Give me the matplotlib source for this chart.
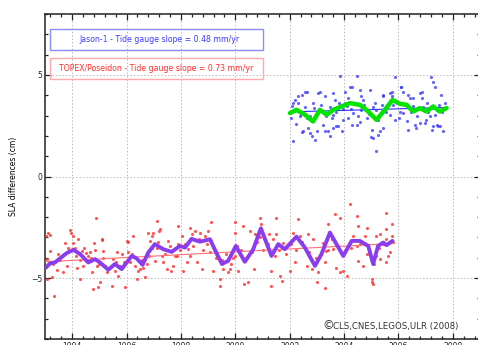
import matplotlib.pyplot as plt
from matplotlib.patches import Rectangle
from matplotlib.ticker import MultipleLocator

# TOPEX/Poseidon - tide gauge differences (cm), 10-day cycles
tp_year = [1993.04, 1993.18, 1993.18, 1993.06, 1993.06, 1993.25, 1993.33, 1993.49, 1993.61, 1993.67,
           1993.74, 1993.86, 1993.96, 1994.02, 1994.04, 1994.10, 1994.17, 1994.22, 1994.29, 1994.35,
           1994.41, 1994.51, 1994.59, 1994.65, 1994.72, 1994.80, 1994.78, 1994.90, 1994.96, 1995.02,
           1995.08, 1995.14, 1995.21, 1995.27, 1995.45, 1995.51, 1995.57, 1995.66, 1995.76, 1995.82,
           1995.94, 1996.00, 1996.13, 1996.25, 1996.37, 1996.43, 1996.49, 1996.61, 1996.68, 1996.82,
           1996.86, 1996.92, 1996.98, 1997.04, 1997.11, 1997.20, 1997.29, 1997.35, 1997.47, 1997.53,
           1997.62, 1997.72, 1997.78, 1997.90, 1998.03, 1998.08, 1998.21, 1998.27, 1998.39, 1998.51,
           1998.58, 1998.70, 1998.76, 1998.88, 1999.00, 1999.07, 1999.19, 1999.43, 1999.43, 1999.56,
           1999.74, 1999.80, 1999.92, 2000.05, 2000.11, 1993.10, 1993.92, 1994.88, 1995.08, 1996.05,
           1997.11, 1996.80, 1997.88, 1997.23, 1998.33, 1999.09, 1999.99, 1999.99, 2000.90, 2000.94,
           2001.25, 2004.21, 2003.66, 2005.56, 2004.46, 2001.49, 2002.31, 2000.27, 2003.42, 2003.85,
           2005.75, 2005.56, 2004.83, 2004.52, 2000.47, 2000.32, 2001.33, 2001.64, 2001.70, 2002.99,
           2003.29, 2005.01, 2005.07, 2005.01, 2000.69, 2001.33, 2002.01, 2002.19, 2002.62, 2002.81,
           2003.05, 2003.72, 2003.85, 2003.97, 2004.09, 2004.52, 2004.70, 2005.32, 2005.56, 2005.19,
           2005.62, 2000.54, 2000.72, 2000.90, 2001.39, 2001.49, 2001.76, 2002.13, 2002.38, 2002.68,
           2002.86, 2003.23, 2003.60, 2004.33, 2004.46, 2004.76, 2004.83, 2005.19, 2005.32, 2005.56,
           2005.75, 2003.29, 2003.35,
           1993.30, 1993.45, 1993.55, 1993.80, 1994.15, 1994.30, 1994.45, 1994.70, 1994.85, 1995.00,
           1995.15, 1995.35, 1995.60, 1995.70, 1995.90, 1996.05, 1996.20, 1996.30, 1996.55, 1996.75,
           1996.95, 1997.15, 1997.40, 1997.58, 1997.85, 1997.95, 1998.15, 1998.35, 1998.45, 1998.65,
           1998.82, 1998.95, 1999.12, 1999.30, 1999.50, 1999.65, 1999.85, 2000.00, 2000.20, 2000.40,
           2000.60, 2000.80, 2001.00, 2001.20, 2001.45, 2001.60, 2001.85, 2002.05, 2002.25, 2002.45,
           2002.70, 2002.95, 2003.15, 2003.40, 2003.55, 2003.78, 2004.05, 2004.25, 2004.60, 2004.90,
           2005.10, 2005.30, 2005.45, 2005.70, 2005.80]
tp_sla = [-2.93, -2.89, -3.66, -4.07, -5.05, -4.95, -5.87, -3.82, -3.91, -4.72,
          -3.25, -3.50, -2.76, -2.93, -3.25, -3.50, -4.48, -3.09, -5.05, -3.66,
          -4.40, -3.77, -3.91, -3.74, -4.72, -3.25, -5.54, -4.40, -5.46, -5.21,
          -3.09, -3.66, -4.40, -4.72, -5.38, -4.07, -4.64, -3.74, -4.40, -3.82,
          -5.46, -3.17, -4.23, -2.93, -5.05, -4.64, -4.56, -4.48, -4.97, -3.91,
          -3.17, -2.93, -2.76, -4.15, -3.50, -2.68, -3.91, -4.23, -4.56, -3.17,
          -4.64, -4.40, -3.91, -3.33, -2.93, -4.64, -4.23, -3.58, -2.84, -2.68,
          -4.23, -2.76, -4.56, -2.93, -2.68, -3.74, -4.64, -5.05, -5.38, -4.56,
          -4.72, -4.56, -3.99, -3.42, -4.64, -2.80, -2.65, -2.03, -3.12, -3.22,
          -2.19, -2.76, -2.44, -2.60, -2.52, -2.24, -2.24, -2.76, -2.03, -2.35,
          -2.84, -1.37, -1.86, -1.78, -1.95, -2.03, -2.08, -2.44, -2.35, -2.03,
          -2.35, -2.60, -2.52, -2.44, -5.21, -5.29, -5.38, -4.89, -5.13, -5.21,
          -5.50, -5.21, -5.29, -5.05, -4.56, -4.64, -4.64, -4.23, -4.40, -4.56,
          -4.72, -4.48, -4.72, -4.64, -4.89, -4.15, -4.40, -4.07, -4.23, -3.91,
          -3.91, -2.68, -2.84, -3.00, -3.09, -2.84, -3.25, -2.76, -2.93, -2.84,
          -3.09, -3.25, -3.58, -2.93, -3.42, -2.93, -3.82, -2.93, -2.84, -3.09,
          -2.93, -4.23, -3.66,
          -4.30, -4.60, -4.10, -4.40, -3.90, -4.10, -3.50, -4.00, -3.60, -4.30,
          -4.00, -4.50, -4.20, -4.90, -4.20, -3.70, -3.80, -4.40, -4.10, -4.30,
          -3.50, -3.20, -3.80, -3.40, -3.90, -3.60, -3.30, -3.90, -3.40, -3.10,
          -3.60, -3.30, -3.20, -4.00, -4.10, -3.80, -4.30, -3.90, -3.60, -4.00,
          -3.70, -3.20, -3.60, -3.30, -3.90, -3.60, -3.80, -3.30, -3.60, -3.20,
          -3.70, -4.00, -3.80, -3.60, -3.10, -3.40, -3.70, -3.50, -3.30, -3.60,
          -4.30, -3.50, -3.30, -3.70, -3.20]

# TOPEX smoothed curve
tp_smooth_year = [1993.04, 1993.18, 1993.37, 1993.55, 1993.80, 1994.04, 1994.29, 1994.59, 1994.84, 1995.02,
                  1995.33, 1995.57, 1995.82, 1996.19, 1996.37, 1996.59, 1996.80, 1997.04, 1997.35, 1997.66,
                  1997.96, 1998.15, 1998.39, 1998.70, 1999.07, 1999.31, 1999.51, 1999.74, 2000.02, 2000.35,
                  2000.66, 2000.94, 2001.33, 2001.58, 2001.82, 2002.25, 2002.56, 2002.93, 2003.17, 2003.48,
                  2003.72, 2003.97, 2004.28, 2004.58, 2004.89, 2005.07, 2005.25, 2005.44, 2005.56, 2005.78]
tp_smooth = [-4.48, -4.28, -4.23, -4.03, -3.77, -3.61, -3.82, -4.23, -4.07, -4.23,
             -4.59, -4.31, -4.56, -3.91, -4.03, -4.35, -3.74, -3.33, -3.58, -3.71,
             -3.42, -3.50, -3.07, -3.21, -3.09, -3.78, -4.31, -4.15, -3.42, -4.20,
             -3.58, -2.55, -3.91, -3.33, -3.58, -2.96, -3.50, -4.40, -3.82, -2.76,
             -3.33, -3.91, -3.17, -3.17, -3.42, -4.31, -3.42, -3.25, -3.38, -3.17]
tp_trend_year = [1993.0, 2005.8]
tp_trend = [-4.20, -3.30]

# Jason-1 - tide gauge differences (cm)
j1_year = [2003.85, 2004.48, 2002.13, 2002.07, 2002.19, 2002.44, 2002.62, 2002.31, 2002.38, 2002.50,
           2002.13, 2002.68, 2002.62, 2002.81, 2002.86, 2003.05, 2003.11, 2002.99, 2003.23, 2003.29,
           2003.29, 2003.60, 2003.66, 2003.54, 2003.78, 2003.97, 2004.03, 2004.15, 2004.21, 2004.28,
           2004.46, 2004.58, 2004.64, 2004.70, 2004.95, 2005.01, 2004.83, 2004.64, 2004.33, 2004.15,
           2003.91, 2003.60, 2003.48, 2002.93, 2005.07, 2003.42, 2005.87, 2007.19, 2007.28, 2006.11,
           2006.17, 2007.58, 2005.44, 2005.68, 2005.75, 2006.36, 2006.42, 2006.79, 2006.85, 2005.13,
           2005.19, 2006.05, 2006.17, 2006.54, 2007.09, 2007.15, 2007.40, 2005.87, 2005.68, 2005.44,
           2005.32, 2004.98, 2006.36, 2006.60, 2006.79, 2007.03, 2007.40, 2007.46, 2007.64, 2006.66,
           2007.22, 2005.19, 2002.44, 2002.74, 2003.72, 2005.25, 2007.28, 2007.52, 2006.97, 2007.34,
           2002.31, 2002.56, 2004.03, 2004.28, 2005.44, 2005.75, 2006.11, 2006.54, 2006.85,
           2002.20, 2002.40, 2002.55, 2002.75, 2002.90, 2003.00, 2003.15, 2003.35, 2003.50, 2003.70,
           2003.80, 2003.95, 2004.10, 2004.25, 2004.40, 2004.50, 2004.75, 2004.90, 2005.05, 2005.25,
           2005.38, 2005.55, 2005.80, 2005.95, 2006.02, 2006.25, 2006.45, 2006.70, 2006.90, 2007.05,
           2007.22, 2007.35, 2007.48, 2007.60, 2007.70, 2002.05, 2002.25, 2003.58, 2004.60, 2006.30]
j1_sla = [4.97, 4.95, 3.61, 3.45, 3.77, 4.02, 4.18, 3.61, 2.96, 2.22,
          1.73, 2.39, 2.88, 1.98, 3.61, 4.10, 4.15, 2.22, 2.55, 2.22,
          3.94, 4.10, 3.77, 2.88, 2.47, 2.79, 3.61, 3.86, 4.43, 2.55,
          2.55, 4.26, 3.94, 3.77, 4.26, 2.30, 2.88, 3.28, 3.12, 2.88,
          2.22, 2.39, 1.98, 1.81, 1.90, 2.25, 4.92, 4.92, 4.67, 4.43,
          4.18, 4.02, 4.02, 4.10, 3.94, 4.02, 3.86, 4.10, 3.86, 3.61,
          3.28, 3.20, 3.12, 3.45, 3.20, 2.96, 3.28, 2.79, 3.04, 2.39,
          2.22, 1.95, 2.30, 2.55, 2.63, 2.79, 2.55, 2.47, 2.22, 2.39,
          2.30, 1.24, 2.17, 2.14, 2.47, 2.06, 2.47, 2.47, 2.63, 4.40,
          3.94, 4.18, 4.18, 4.40, 3.94, 4.18, 4.40, 3.86, 4.18,
          3.30, 3.10, 3.40, 3.00, 3.35, 3.20, 3.50, 3.00, 3.40, 3.20,
          3.60, 3.30, 3.45, 3.30, 3.60, 3.00, 3.50, 3.10, 3.40, 2.80,
          3.50, 3.20, 3.50, 3.60, 2.90, 3.50, 3.20, 3.00, 3.40, 3.60,
          3.35, 3.05, 3.50, 3.20, 3.60, 2.90, 2.60, 3.05, 2.70, 2.75]

# Jason-1 smoothed curve
j1_smooth_year = [2002.01, 2002.25, 2002.56, 2002.86, 2003.11, 2003.36, 2003.60, 2003.91, 2004.21, 2004.58,
                  2004.89, 2005.19, 2005.50, 2005.78, 2006.05, 2006.30, 2006.54, 2006.79, 2007.03, 2007.28,
                  2007.52, 2007.77]
j1_smooth = [3.12, 3.28, 3.04, 2.71, 3.28, 3.04, 3.28, 3.45, 3.61, 3.53,
             3.20, 2.79, 3.28, 3.77, 3.58, 3.53, 3.20, 3.37, 3.20, 3.45,
             3.20, 3.37]
j1_trend_year = [2002.0, 2007.8]
j1_trend = [3.18, 3.40]

x_ticks = [1994, 1996, 1998, 2000, 2002, 2004, 2006, 2008]

fig = plt.figure(figsize=(4.78, 3.45), dpi=100)
ax = fig.add_axes([45 / 478, 6 / 345, 435 / 478, 325 / 345])

# points
ax.scatter(tp_year, tp_sla, s=5, color="#ff2a2a", alpha=0.8, linewidths=0, zorder=3)
ax.scatter(j1_year, j1_sla, s=5, color="#3c3cff", alpha=0.8, linewidths=0, zorder=3)

# trends
ax.plot(tp_trend_year, tp_trend, color="#ff7070", lw=0.8, zorder=4)
ax.plot(j1_trend_year, j1_trend, color="#3030ff", lw=0.8, zorder=4)

# smoothed curves
ax.plot(tp_smooth_year, tp_smooth, color="#8a3cf0", lw=2.8, solid_joinstyle="round",
        solid_capstyle="round", zorder=5)
ax.plot(j1_smooth_year, j1_smooth, color="#00e400", lw=3.2, solid_joinstyle="round",
        solid_capstyle="round", zorder=5)

ax.set_xlim(1993, 2009)
ax.set_ylim(-8, 8)
ax.set_xticks(x_ticks)
ax.xaxis.set_minor_locator(MultipleLocator(0.4))
ax.set_yticks([-5, 0, 5])
ax.yaxis.set_minor_locator(MultipleLocator(1))
ax.tick_params(which="both", direction="in", top=True, right=True, labelsize=5.5,
               colors="#222222", width=0.9)
ax.tick_params(which="major", length=4, pad=2)
ax.tick_params(which="minor", length=2.5)
ax.grid(True, which="major", color="#bbbbbb", linestyle=(0, (1.5, 2)), lw=0.7)
for s in ax.spines.values():
    s.set_linewidth(1.1)
    s.set_color("#222222")
ax.set_ylabel("SLA differences (cm)", fontsize=5.5, labelpad=9)

# legend boxes
ax.add_patch(Rectangle((0.0115, 0.889), 0.49, 0.065, transform=ax.transAxes,
                       fill=False, edgecolor="#8c8cff", lw=1.0, zorder=6))
ax.text(0.262, 0.921, "Jason-1 - Tide gauge slope = 0.48 mm/yr", transform=ax.transAxes,
        color="#3c3cff", fontsize=5.6, ha="center", va="center", zorder=6)
ax.add_patch(Rectangle((0.0115, 0.80), 0.49, 0.065, transform=ax.transAxes,
                       fill=False, edgecolor="#ffaaaa", lw=1.0, zorder=6))
ax.text(0.256, 0.832, "TOPEX/Poseidon - Tide gauge slope = 0.73 mm/yr", transform=ax.transAxes,
        color="#ff3030", fontsize=5.6, ha="center", va="center", zorder=6)

ax.text(0.637, 0.022, "\u00a9", transform=ax.transAxes,
        color="#333333", fontsize=8.5, ha="left", va="bottom", zorder=6)
ax.text(0.662, 0.024, "CLS,CNES,LEGOS,ULR (2008)", transform=ax.transAxes,
        color="#333333", fontsize=6.2, ha="left", va="bottom", zorder=6)

fig.savefig("out.png", dpi=100)
